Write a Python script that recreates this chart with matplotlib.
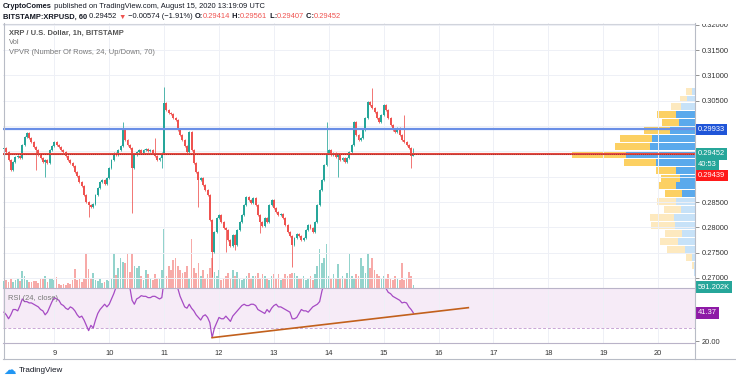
import numpy as np
import matplotlib.pyplot as plt
import matplotlib.transforms as mtrans
from matplotlib.lines import Line2D
from matplotlib.patches import Rectangle

plt.rcParams['font.family'] = ['Liberation Sans', 'DejaVu Sans']

W, H = 736, 380
FS = 5.4

# XRP/USD hourly closes, Aug 8 02:00 .. Aug 15 13:00 UTC
closes = [
    0.2957, 0.2949, 0.2933, 0.2913, 0.2929, 0.2939, 0.2941, 0.2937, 0.2963, 0.2978,
    0.2986, 0.2976, 0.2969, 0.2959, 0.2953, 0.2943, 0.2937, 0.2929, 0.2933, 0.2927,
    0.2953, 0.2961, 0.2969, 0.2963, 0.2959, 0.2953, 0.2949, 0.2941, 0.2933, 0.2927,
    0.2921, 0.2909, 0.2901, 0.2890, 0.2882, 0.2864, 0.2850, 0.2844, 0.2840, 0.2846,
    0.2864, 0.2878, 0.2890, 0.2893, 0.2886, 0.2897, 0.2917, 0.2933, 0.2947, 0.2943,
    0.2953, 0.2961, 0.2992, 0.2973, 0.2963, 0.2957, 0.2917, 0.2943, 0.2949, 0.2953,
    0.2947, 0.2953, 0.2955, 0.2951, 0.2953, 0.2947, 0.2941, 0.2933, 0.2937, 0.2947,
    0.3046, 0.3032, 0.3026, 0.3024, 0.3016, 0.3012, 0.2992, 0.2982, 0.2973, 0.2961,
    0.2949, 0.2988, 0.2953, 0.2927, 0.2909, 0.2893, 0.2897, 0.2884, 0.2874, 0.2864,
    0.2814, 0.2751, 0.2791, 0.2818, 0.2824, 0.2810, 0.2799, 0.2795, 0.2775, 0.2763,
    0.2785, 0.2765, 0.2795, 0.2810, 0.2824, 0.2844, 0.2860, 0.2854, 0.2848, 0.2858,
    0.2844, 0.2824, 0.2810, 0.2803, 0.2818, 0.2810, 0.2844, 0.2854, 0.2838, 0.2830,
    0.2824, 0.2826, 0.2818, 0.2805, 0.2791, 0.2783, 0.2765, 0.2779, 0.2787, 0.2783,
    0.2775, 0.2779, 0.2795, 0.2805, 0.2799, 0.2791, 0.2810, 0.2844, 0.2874, 0.2893,
    0.2923, 0.2947, 0.2953, 0.2943, 0.2947, 0.2939, 0.2943, 0.2933, 0.2937, 0.2929,
    0.2937, 0.2949, 0.2963, 0.3008, 0.2982, 0.2973, 0.2976, 0.2992, 0.3016, 0.3048,
    0.3042, 0.3036, 0.3028, 0.3016, 0.3008, 0.3022, 0.3042, 0.3032, 0.3016, 0.3002,
    0.2992, 0.2988, 0.2996, 0.2982, 0.2973, 0.2969, 0.2963, 0.2957, 0.29414, 0.29452,
]
first_open = 0.2955

# wicks that stick out noticeably (candle index -> price)
wick_hi = {52: 0.3008, 66: 0.2976, 70: 0.3077, 141: 0.3008, 161: 0.3075,
           175: 0.3022, 179: 0.29561}
wick_lo = {14: 0.2913, 18: 0.2899, 37: 0.2820, 56: 0.2828, 69: 0.2917, 85: 0.2840,
           91: 0.2702, 97: 0.2751, 101: 0.2755, 112: 0.2789, 126: 0.2722,
           146: 0.2899, 178: 0.2917, 179: 0.29407}

# volume, thousands of XRP
volumes = [
    1400, 1600, 1200, 1800, 1200, 1600, 2000, 1400, 3400, 2400,
    1600, 1200, 1200, 1400, 1400, 1000, 1800, 1800, 2400, 1200,
    2000, 1800, 1600, 2200, 800, 600, 800, 600, 1000, 800,
    1600, 3800, 1600, 1800, 1200, 2000, 6800, 3800, 2000, 3000,
    1600, 1400, 1800, 1000, 1200, 1600, 1400, 2000, 6800, 2600,
    4000, 6000, 5200, 5000, 6800, 3200, 6800, 4400, 4000, 4400,
    2400, 1600, 3600, 2800, 2000, 1600, 2800, 2000, 1800, 3600,
    11800, 2400, 4400, 3600, 5600, 6000, 4400, 3600, 3000, 3200,
    4400, 2000, 9800, 4000, 3000, 5000, 2400, 3600, 2000, 2800,
    4000, 6000, 3200, 2400, 3600, 1600, 2000, 2400, 3000, 2000,
    3600, 2400, 3200, 2000, 1600, 2000, 2400, 3000, 2000, 2400,
    2400, 3000, 2000, 2800, 2400, 2000, 1600, 2400, 2800, 2000,
    2800, 1600, 2000, 2800, 2400, 2800, 3000, 3000, 2400, 2000,
    2000, 2400, 1600, 2000, 2400, 1600, 2800, 4400, 7800, 5000,
    6000, 8800, 2400, 2000, 2800, 2000, 4800, 2000, 2400, 2000,
    3000, 6800, 2400, 2000, 2800, 2400, 6000, 4400, 3000, 6800,
    4000, 6000, 3600, 2800, 2400, 2000, 2400, 2000, 2800, 2000,
    1600, 2400, 2000, 1600, 5000, 1600, 2000, 3200, 2400, 591.202,
]

# RSI(24, close)
rsi = [
    42, 40, 37, 40, 44, 44, 43, 47, 52, 50,
    50, 49, 49, 48, 47, 46, 44, 43, 40, 42,
    46, 50, 53, 52, 51, 48, 47, 45, 44, 46,
    45, 43, 40, 38, 39, 36, 32, 28, 32, 30,
    36, 41, 44, 46, 48, 46, 48, 52, 56, 61,
    62, 64, 70, 66, 64, 61, 51, 48, 52, 53,
    54.5, 54, 54, 53, 53, 54, 54, 53, 52, 53,
    66, 65, 64, 64, 63, 62, 60, 54, 50, 46,
    45, 48, 45, 43, 40, 38, 36, 39, 40, 38,
    34, 22.7, 30, 34, 38, 37, 37, 39, 37, 35,
    39, 41, 43, 45, 47, 48, 47, 47, 48, 48,
    47, 44, 43, 42, 41, 44, 42, 45, 47, 48,
    46, 46, 45, 44, 43, 42, 37, 37, 38, 41,
    44, 43, 43, 42, 44, 46, 47, 48, 50, 58,
    64, 68, 68, 66, 66, 65, 65, 63, 64, 62,
    63, 65, 66, 71, 67, 66, 66, 68, 70, 73,
    72, 71, 69, 67, 66, 67, 61, 60, 57, 56,
    54, 53, 52, 51, 49, 49.5, 49, 46, 44, 41.37,
]

# VPVR, 24 rows from the lowest to the highest price
vp_up = [0.5, 1, 3.3, 10.3, 16.7, 12.7, 20, 21, 14.3, 19.3, 12.7, 18.7,
         15.3, 19.3, 39.3, 68.3, 44.3, 42.7, 25, 16, 19.3, 13.7, 7.7, 2.7]
vp_down = [0.5, 1.7, 5.3, 17.3, 17.7, 16.7, 23.7, 24, 16.7, 19, 17.3, 16.7,
           18.3, 19.3, 31, 54.3, 35.7, 31.7, 26, 17.3, 19, 10, 7.7, 6.7]
value_area = range(10, 21)

resistance = 0.29933
support = 0.29439
last_price = 0.29452
trend_x = [93, 205]      # hours since Aug 8 00:00
trend_y = [22.7, 45.4]   # RSI

day_labels = ['9', '10', '11', '12', '13', '14', '15', '16', '17', '18', '19', '20']

UP, DOWN = '#26a69a', '#ef5350'

def fx(px):
    return px / W

def fy(py):
    return 1 - py / H

fig = plt.figure(figsize=(W / 100, H / 100), dpi=100)
fig.patch.set_facecolor('white')

left, right = 3, 695
ax = fig.add_axes([fx(left), fy(288), (right - left) / W, (288 - 23) / H])
rx = fig.add_axes([fx(left), fy(343), (right - left) / W, (343 - 288) / H], sharex=ax)
vax = ax.twinx()
vp = ax.twiny()
vax.set_zorder(1)
vp.set_zorder(2)
ax.set_zorder(3)
for a in (ax, rx, vax, vp):
    a.patch.set_visible(False)
    for s in a.spines.values():
        s.set_visible(False)

n = len(closes)
t = np.arange(n) + 2  # candle hour
opens = np.array([first_open] + closes[:-1])
cl = np.array(closes)
highs = np.maximum(opens, cl) + 0.0002
lows = np.minimum(opens, cl) - 0.0002
for i, v in wick_hi.items():
    highs[i] = v
for i, v in wick_lo.items():
    lows[i] = v
up = cl >= opens
cols = np.where(up, UP, DOWN)

ax.set_xlim(1.57, 304.1)
ax.set_ylim(0.26801, 0.32037)

ax.vlines(t, lows, highs, colors=cols, lw=0.7, alpha=0.8, zorder=3)
body = np.maximum(np.abs(cl - opens), 0.00006)
ax.bar(t, body, bottom=np.minimum(opens, cl), width=0.85, color=cols, lw=0, zorder=4)

# volume
vcols = np.where(up, '#93d3cc', '#f7aaa8')
vax.bar(t, volumes, width=0.75, color=vcols, lw=0)
vax.set_ylim(0, 53000)
vax.set_yticks([])

# volume profile
edges = np.linspace(lows.min(), highs.max(), len(vp_up) + 1)
centers = (edges[:-1] + edges[1:]) / 2
step = edges[1] - edges[0]
upc = ['#5aa9ec' if k in value_area else '#c7e2f8' for k in range(len(vp_up))]
dnc = ['#fcd062' if k in value_area else '#fde9bf' for k in range(len(vp_up))]
vp.barh(centers, vp_up, height=step * 0.88, left=0, color=upc, lw=0)
vp.barh(centers, vp_down, height=step * 0.88, left=vp_up, color=dnc, lw=0)
vmax = max(u + d for u, d in zip(vp_up, vp_down))
vp.set_xlim(vmax / 0.178, 0)
vp.set_xticks([])

# horizontal lines
ax.axhline(resistance, color='#6a8fe6', lw=1.6, zorder=5)
ax.axhline(support, color='#e5483f', lw=1.5, zorder=5)
ax.axhline(last_price, color='#8a2a2a', lw=0.6, ls=(0, (1, 1.5)), zorder=6)

# price axis; the labels under the price tags are hidden by them
ax.set_yticks(np.arange(0.27, 0.3201, 0.005))
hidden = (0.29, 0.295, 0.30)
ax.yaxis.set_major_formatter(plt.FuncFormatter(
    lambda v, p: '' if any(abs(v - h) < 1e-6 for h in hidden) else f'{v:.5f}'))
ax.yaxis.tick_right()
ax.tick_params(axis='y', length=3, width=0.5, color='#666', labelsize=FS,
               labelcolor='#333', pad=1.5)
ax.tick_params(axis='x', bottom=False, labelbottom=False)
ax.set_xticks([24 * (k + 1) for k in range(len(day_labels))])
ax.grid(color='#eef0f6', lw=0.7)
ax.set_axisbelow(True)

# RSI pane
rx.set_ylim(18.64, 60.3)
rx.axhspan(30, 70, color='#9c27b0', alpha=0.09, lw=0)
rx.axhline(30, color='#c9a6d6', lw=0.7, ls=(0, (3, 2)))
rx.axhline(70, color='#c9a6d6', lw=0.7, ls=(0, (3, 2)))
rx.plot(t, rsi, color='#a64bc4', lw=0.9)
rx.plot(trend_x, trend_y, color='#c2601c', lw=1.2)
rx.grid(axis='x', color='#eef0f6', lw=0.7)
rx.set_yticks([20])
rx.yaxis.set_major_formatter(plt.FuncFormatter(lambda v, p: f'{v:.2f}'))
rx.yaxis.tick_right()
rx.tick_params(axis='y', length=3, width=0.5, color='#666', labelsize=FS,
               labelcolor='#333', pad=1.5)
rx.set_xticklabels(day_labels)
rx.tick_params(axis='x', length=0, labelsize=FS, labelcolor='#333', pad=5)


def tag(axx, y, text, fc, dy=0):
    tr = mtrans.blended_transform_factory(axx.transAxes, axx.transData)
    tr = mtrans.offset_copy(tr, fig=fig, x=3, y=dy, units='dots')
    axx.text(1.0, y, text, transform=tr, ha='left', va='center', fontsize=FS,
             color='white', clip_on=False, zorder=10,
             bbox=dict(boxstyle='square,pad=0.3', fc=fc, ec='none'))


tag(ax, resistance, f'{resistance:.5f}', '#1f55d8')
tag(ax, last_price, f'{last_price:.5f}', UP)
tag(ax, last_price, '40:53', UP, dy=-11)
tag(ax, support, f'{support:.5f}', '#ff1a1a', dy=-21)
tag(vax, volumes[-1], f'{volumes[-1]:.3f}K', UP, dy=-2)
tag(rx, rsi[-1], f'{rsi[-1]:.2f}', '#8e1aa6')

# cover the price scale outside the pane
fig.add_artist(Rectangle((fx(696), fy(23.5)), 40 / W, 23.5 / H, transform=fig.transFigure,
                         fc='white', ec='none', zorder=5))
fig.add_artist(Rectangle((fx(696), fy(358)), 40 / W, 14.5 / H, transform=fig.transFigure,
                         fc='white', ec='none', zorder=5))


def line(x0, y0, x1, y1, c='#b8bcc6', lw=0.8):
    fig.add_artist(Line2D([fx(x0), fx(x1)], [fy(y0), fy(y1)], transform=fig.transFigure,
                          color=c, lw=lw, zorder=6))


line(3, 23.5, 695, 23.5, '#d1d4dc')
line(3.5, 23, 3.5, 359)
line(695, 23, 695, 359)
line(3, 288, 695, 288, '#b9b3c8')
line(3, 343, 695, 343, '#b9b3c8')
line(3, 359, 736, 359)


def seq_text(x_px, y_px, parts, size=FS):
    r = fig.canvas.get_renderer()
    x = x_px
    for s, c, w in parts:
        tx = fig.text(fx(x), fy(y_px), s, color=c, fontweight=w, fontsize=size,
                      ha='left', va='center')
        x += tx.get_window_extent(r).width * 100 / fig.dpi


dark = '#131722'
seq_text(3, 6, [('CryptoComes', dark, 'bold'),
                (' published on TradingView.com, August 15, 2020 13:19:09 UTC', dark, 'normal')])
seq_text(3, 17, [('BITSTAMP:XRPUSD, 60', dark, 'bold'), (' 0.29452 ', dark, 'normal'),
                 ('▼', DOWN, 'normal'), (' −0.00574 (−1.91%) ', dark, 'normal'),
                 ('O:', dark, 'bold'), ('0.29414', DOWN, 'normal'),
                 (' H:', dark, 'bold'), ('0.29561', DOWN, 'normal'),
                 (' L:', dark, 'bold'), ('0.29407', DOWN, 'normal'),
                 (' C:', dark, 'bold'), ('0.29452', DOWN, 'normal')])

fig.text(fx(9), fy(33), 'XRP / U.S. Dollar, 1h, BITSTAMP', fontsize=FS, fontweight='bold',
         color='#555', va='center')
fig.text(fx(9), fy(43), 'Vol', fontsize=FS, color='#777', va='center')
fig.text(fx(9), fy(53), 'VPVR (Number Of Rows, 24, Up/Down, 70)', fontsize=FS,
         color='#777', va='center')
fig.text(fx(8), fy(298), 'RSI (24, close)', fontsize=FS, color='#777', va='center', zorder=7)

fig.text(fx(3), fy(370), '☁', fontsize=9, color='#2196f3', va='center',
         family='DejaVu Sans')
fig.text(fx(19), fy(370), 'TradingView', fontsize=FS + 0.4, color=dark, va='center')

fig.savefig('out.png', dpi=100)
